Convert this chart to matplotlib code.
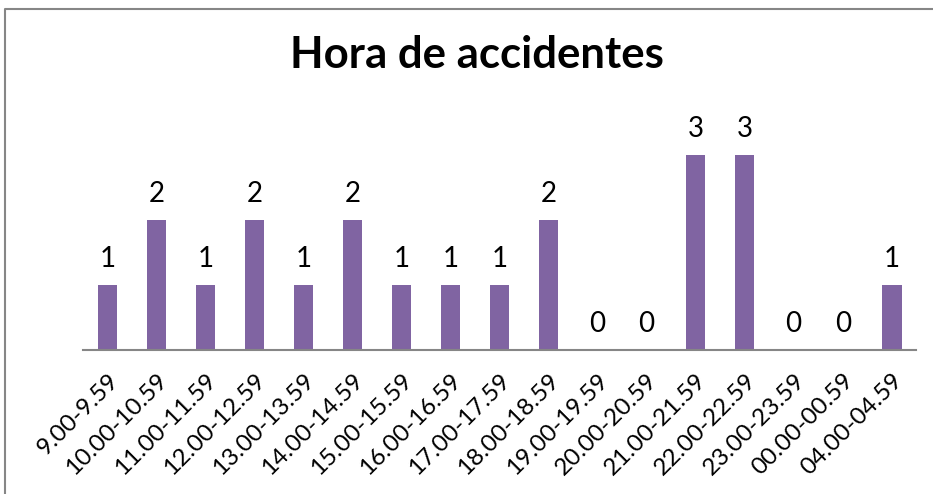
import numpy as np
import matplotlib.pyplot as plt
from matplotlib.lines import Line2D

# datos del grafico
franjas = ['9.00-9.59', '10.00-10.59', '11.00-11.59', '12.00-12.59', '13.00-13.59',
           '14.00-14.59', '15.00-15.59', '16.00-16.59', '17.00-17.59', '18.00-18.59',
           '19.00-19.59', '20.00-20.59', '21.00-21.59', '22.00-22.59', '23.00-23.59',
           '00.00-00.59', '04.00-04.59']
accidentes = [1, 2, 1, 2, 1, 2, 1, 1, 1, 2, 0, 0, 3, 3, 0, 0, 1]
titulo = 'Hora de accidentes'

plt.rcParams['font.family'] = ['Lato', 'DejaVu Sans']

fig = plt.figure(figsize=(9.33, 4.94), dpi=100)
ax = fig.add_axes([0.089, 0.2915, 0.893, 0.4605])

x = np.arange(len(franjas))
bars = ax.bar(x, accidentes, width=0.4, color='#8064A2')

for xi, v in zip(x, accidentes):
    ax.annotate(str(v), (xi, v), xytext=(0, 13), textcoords='offset points',
                ha='center', va='baseline', fontsize=20)

ax.set_xlim(-0.5, len(franjas) - 0.5)
ax.set_ylim(0, 3.5)
ax.set_yticks([])
ax.set_xticks(x)
ax.set_xticklabels(franjas, rotation=45, ha='right', va='top',
                   rotation_mode='anchor', fontsize=17.5)
ax.tick_params(axis='x', length=0, pad=14)

for s in ['top', 'right', 'left']:
    ax.spines[s].set_visible(False)
ax.spines['bottom'].set_color('#868686')
ax.spines['bottom'].set_linewidth(1.5)

fig.text(0.511, 0.862, titulo, ha='center', va='baseline',
         fontsize=31.5, fontweight='bold')

# borde del area del grafico
fig.add_artist(Line2D([5 / 933, 5 / 933, 1.0], [0.0, 1 - 9.5 / 494, 1 - 9.5 / 494],
                      transform=fig.transFigure, color='#868686', lw=1.5))

fig.savefig('out.png', dpi=100)
